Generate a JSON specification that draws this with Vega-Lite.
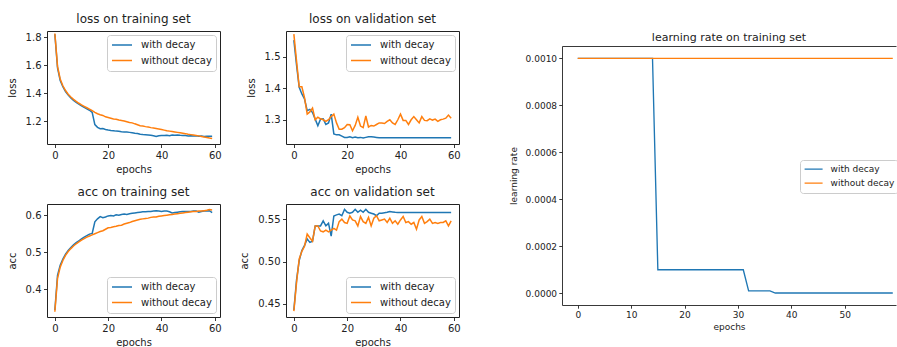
{
  "$schema": "https://vega.github.io/schema/vega-lite/v6.json",
  "background": "white",
  "padding": {"left": 6, "top": 12, "right": 0, "bottom": 0},
  "config": {
    "font": "DejaVu Sans",
    "view": {"stroke": "#222", "strokeWidth": 1},
    "axis": {"grid": false, "domain": false, "tickColor": "#222", "tickSize": 3.5, "tickWidth": 0.9, "labelColor": "#222", "labelFontSize": 10, "labelPadding": 2.5, "titleFontSize": 10, "titleFontWeight": "normal", "titleColor": "#222", "labelFlush": false, "labelOverlap": false, "labelBound": false},
    "axisX": {"titlePadding": 4},
    "axisY": {"titlePadding": 8},
    "title": {"fontSize": 12, "fontWeight": "normal", "color": "#222", "offset": 5},
    "legend": {"symbolType": "stroke", "symbolSize": 400, "symbolStrokeWidth": 1.5, "labelFontSize": 10, "labelColor": "#222", "strokeColor": "#cccccc", "fillColor": "rgba(255,255,255,0.8)", "cornerRadius": 3, "padding": 4, "rowPadding": 3.5, "clipHeight": 12, "labelOffset": 8, "offset": 4}
  },
  "datasets": {
    "loss_train": [
      {"epoch":0,"with decay":1.82,"without decay":1.825},{"epoch":1,"with decay":1.58,"without decay":1.59},{"epoch":2,"with decay":1.49,"without decay":1.5},{"epoch":3,"with decay":1.445,"without decay":1.452},{"epoch":4,"with decay":1.41,"without decay":1.418},{"epoch":5,"with decay":1.385,"without decay":1.392},{"epoch":6,"with decay":1.365,"without decay":1.372},{"epoch":7,"with decay":1.348,"without decay":1.355},{"epoch":8,"with decay":1.333,"without decay":1.34},{"epoch":9,"with decay":1.32,"without decay":1.327},
      {"epoch":10,"with decay":1.308,"without decay":1.315},{"epoch":11,"with decay":1.297,"without decay":1.305},{"epoch":12,"with decay":1.287,"without decay":1.295},{"epoch":13,"with decay":1.277,"without decay":1.285},{"epoch":14,"with decay":1.262,"without decay":1.274},{"epoch":15,"with decay":1.175,"without decay":1.262},{"epoch":16,"with decay":1.155,"without decay":1.252},{"epoch":17,"with decay":1.145,"without decay":1.245},{"epoch":18,"with decay":1.146,"without decay":1.24},{"epoch":19,"with decay":1.14,"without decay":1.23},
      {"epoch":20,"with decay":1.136,"without decay":1.225},{"epoch":21,"with decay":1.133,"without decay":1.22},{"epoch":22,"with decay":1.131,"without decay":1.215},{"epoch":23,"with decay":1.128,"without decay":1.212},{"epoch":24,"with decay":1.127,"without decay":1.207},{"epoch":25,"with decay":1.124,"without decay":1.204},{"epoch":26,"with decay":1.122,"without decay":1.2},{"epoch":27,"with decay":1.121,"without decay":1.195},{"epoch":28,"with decay":1.119,"without decay":1.19},{"epoch":29,"with decay":1.117,"without decay":1.187},
      {"epoch":30,"with decay":1.113,"without decay":1.18},{"epoch":31,"with decay":1.111,"without decay":1.174},{"epoch":32,"with decay":1.105,"without decay":1.167},{"epoch":33,"with decay":1.103,"without decay":1.164},{"epoch":34,"with decay":1.102,"without decay":1.16},{"epoch":35,"with decay":1.101,"without decay":1.157},{"epoch":36,"with decay":1.098,"without decay":1.153},{"epoch":37,"with decay":1.095,"without decay":1.15},{"epoch":38,"with decay":1.09,"without decay":1.147},{"epoch":39,"with decay":1.095,"without decay":1.143},
      {"epoch":40,"with decay":1.097,"without decay":1.139},{"epoch":41,"with decay":1.096,"without decay":1.135},{"epoch":42,"with decay":1.098,"without decay":1.131},{"epoch":43,"with decay":1.095,"without decay":1.128},{"epoch":44,"with decay":1.1,"without decay":1.125},{"epoch":45,"with decay":1.099,"without decay":1.122},{"epoch":46,"with decay":1.1,"without decay":1.119},{"epoch":47,"with decay":1.098,"without decay":1.116},{"epoch":48,"with decay":1.097,"without decay":1.113},{"epoch":49,"with decay":1.096,"without decay":1.11},
      {"epoch":50,"with decay":1.094,"without decay":1.106},{"epoch":51,"with decay":1.095,"without decay":1.103},{"epoch":52,"with decay":1.093,"without decay":1.1},{"epoch":53,"with decay":1.094,"without decay":1.097},{"epoch":54,"with decay":1.092,"without decay":1.094},{"epoch":55,"with decay":1.093,"without decay":1.09},{"epoch":56,"with decay":1.09,"without decay":1.086},{"epoch":57,"with decay":1.092,"without decay":1.083},{"epoch":58,"with decay":1.091,"without decay":1.079},{"epoch":59,"with decay":1.092,"without decay":1.076}
    ],
    "loss_val": [
      {"epoch":0,"with decay":1.553,"without decay":1.572},{"epoch":1,"with decay":1.474,"without decay":1.487},{"epoch":2,"with decay":1.403,"without decay":1.405},{"epoch":3,"with decay":1.382,"without decay":1.405},{"epoch":4,"with decay":1.366,"without decay":1.37},{"epoch":5,"with decay":1.329,"without decay":1.318},{"epoch":6,"with decay":1.333,"without decay":1.325},{"epoch":7,"with decay":1.323,"without decay":1.337},{"epoch":8,"with decay":1.302,"without decay":1.3},{"epoch":9,"with decay":1.281,"without decay":1.308},
      {"epoch":10,"with decay":1.302,"without decay":1.303},{"epoch":11,"with decay":1.303,"without decay":1.3},{"epoch":12,"with decay":1.285,"without decay":1.295},{"epoch":13,"with decay":1.29,"without decay":1.3},{"epoch":14,"with decay":1.318,"without decay":1.31},{"epoch":15,"with decay":1.255,"without decay":1.318},{"epoch":16,"with decay":1.252,"without decay":1.29},{"epoch":17,"with decay":1.252,"without decay":1.27},{"epoch":18,"with decay":1.248,"without decay":1.27},{"epoch":19,"with decay":1.244,"without decay":1.275},
      {"epoch":20,"with decay":1.244,"without decay":1.285},{"epoch":21,"with decay":1.246,"without decay":1.284},{"epoch":22,"with decay":1.243,"without decay":1.265},{"epoch":23,"with decay":1.245,"without decay":1.282},{"epoch":24,"with decay":1.243,"without decay":1.308},{"epoch":25,"with decay":1.244,"without decay":1.28},{"epoch":26,"with decay":1.242,"without decay":1.275},{"epoch":27,"with decay":1.244,"without decay":1.312},{"epoch":28,"with decay":1.246,"without decay":1.277},{"epoch":29,"with decay":1.246,"without decay":1.282},
      {"epoch":30,"with decay":1.245,"without decay":1.28},{"epoch":31,"with decay":1.244,"without decay":1.285},{"epoch":32,"with decay":1.243,"without decay":1.29},{"epoch":33,"with decay":1.243,"without decay":1.29},{"epoch":34,"with decay":1.243,"without decay":1.288},{"epoch":35,"with decay":1.243,"without decay":1.295},{"epoch":36,"with decay":1.243,"without decay":1.3},{"epoch":37,"with decay":1.243,"without decay":1.29},{"epoch":38,"with decay":1.243,"without decay":1.285},{"epoch":39,"with decay":1.243,"without decay":1.3},
      {"epoch":40,"with decay":1.243,"without decay":1.318},{"epoch":41,"with decay":1.243,"without decay":1.298},{"epoch":42,"with decay":1.243,"without decay":1.298},{"epoch":43,"with decay":1.243,"without decay":1.285},{"epoch":44,"with decay":1.243,"without decay":1.3},{"epoch":45,"with decay":1.243,"without decay":1.31},{"epoch":46,"with decay":1.243,"without decay":1.3},{"epoch":47,"with decay":1.243,"without decay":1.29},{"epoch":48,"with decay":1.243,"without decay":1.31},{"epoch":49,"with decay":1.243,"without decay":1.298},
      {"epoch":50,"with decay":1.243,"without decay":1.297},{"epoch":51,"with decay":1.243,"without decay":1.303},{"epoch":52,"with decay":1.243,"without decay":1.299},{"epoch":53,"with decay":1.243,"without decay":1.302},{"epoch":54,"with decay":1.243,"without decay":1.295},{"epoch":55,"with decay":1.243,"without decay":1.3},{"epoch":56,"with decay":1.243,"without decay":1.302},{"epoch":57,"with decay":1.243,"without decay":1.305},{"epoch":58,"with decay":1.243,"without decay":1.315},{"epoch":59,"with decay":1.243,"without decay":1.305}
    ],
    "acc_train": [
      {"epoch":0,"with decay":0.345,"without decay":0.34},{"epoch":1,"with decay":0.438,"without decay":0.43},{"epoch":2,"with decay":0.465,"without decay":0.46},{"epoch":3,"with decay":0.482,"without decay":0.478},{"epoch":4,"with decay":0.495,"without decay":0.492},{"epoch":5,"with decay":0.505,"without decay":0.502},{"epoch":6,"with decay":0.513,"without decay":0.51},{"epoch":7,"with decay":0.52,"without decay":0.517},{"epoch":8,"with decay":0.526,"without decay":0.523},{"epoch":9,"with decay":0.531,"without decay":0.528},
      {"epoch":10,"with decay":0.536,"without decay":0.533},{"epoch":11,"with decay":0.541,"without decay":0.537},{"epoch":12,"with decay":0.545,"without decay":0.541},{"epoch":13,"with decay":0.549,"without decay":0.544},{"epoch":14,"with decay":0.551,"without decay":0.547},{"epoch":15,"with decay":0.582,"without decay":0.55},{"epoch":16,"with decay":0.59,"without decay":0.553},{"epoch":17,"with decay":0.596,"without decay":0.556},{"epoch":18,"with decay":0.593,"without decay":0.558},{"epoch":19,"with decay":0.595,"without decay":0.562},
      {"epoch":20,"with decay":0.598,"without decay":0.566},{"epoch":21,"with decay":0.599,"without decay":0.567},{"epoch":22,"with decay":0.598,"without decay":0.569},{"epoch":23,"with decay":0.601,"without decay":0.57},{"epoch":24,"with decay":0.6,"without decay":0.572},{"epoch":25,"with decay":0.602,"without decay":0.573},{"epoch":26,"with decay":0.603,"without decay":0.576},{"epoch":27,"with decay":0.602,"without decay":0.578},{"epoch":28,"with decay":0.604,"without decay":0.58},{"epoch":29,"with decay":0.605,"without decay":0.583},
      {"epoch":30,"with decay":0.606,"without decay":0.585},{"epoch":31,"with decay":0.607,"without decay":0.587},{"epoch":32,"with decay":0.608,"without decay":0.589},{"epoch":33,"with decay":0.609,"without decay":0.59},{"epoch":34,"with decay":0.609,"without decay":0.591},{"epoch":35,"with decay":0.61,"without decay":0.592},{"epoch":36,"with decay":0.61,"without decay":0.594},{"epoch":37,"with decay":0.611,"without decay":0.595},{"epoch":38,"with decay":0.612,"without decay":0.595},{"epoch":39,"with decay":0.611,"without decay":0.597},
      {"epoch":40,"with decay":0.61,"without decay":0.598},{"epoch":41,"with decay":0.611,"without decay":0.599},{"epoch":42,"with decay":0.611,"without decay":0.6},{"epoch":43,"with decay":0.609,"without decay":0.601},{"epoch":44,"with decay":0.606,"without decay":0.602},{"epoch":45,"with decay":0.607,"without decay":0.603},{"epoch":46,"with decay":0.608,"without decay":0.604},{"epoch":47,"with decay":0.609,"without decay":0.605},{"epoch":48,"with decay":0.61,"without decay":0.606},{"epoch":49,"with decay":0.61,"without decay":0.607},
      {"epoch":50,"with decay":0.61,"without decay":0.608},{"epoch":51,"with decay":0.61,"without decay":0.609},{"epoch":52,"with decay":0.611,"without decay":0.61},{"epoch":53,"with decay":0.611,"without decay":0.61},{"epoch":54,"with decay":0.608,"without decay":0.611},{"epoch":55,"with decay":0.61,"without decay":0.611},{"epoch":56,"with decay":0.611,"without decay":0.612},{"epoch":57,"with decay":0.611,"without decay":0.613},{"epoch":58,"with decay":0.612,"without decay":0.615},{"epoch":59,"with decay":0.607,"without decay":0.614}
    ],
    "acc_val": [
      {"epoch":0,"with decay":0.4428,"without decay":0.4415},{"epoch":1,"with decay":0.478,"without decay":0.475},{"epoch":2,"with decay":0.501,"without decay":0.503},{"epoch":3,"with decay":0.513,"without decay":0.512},{"epoch":4,"with decay":0.519,"without decay":0.518},{"epoch":5,"with decay":0.5265,"without decay":0.5323},{"epoch":6,"with decay":0.5225,"without decay":0.528},{"epoch":7,"with decay":0.524,"without decay":0.524},{"epoch":8,"with decay":0.542,"without decay":0.542},{"epoch":9,"with decay":0.542,"without decay":0.542},
      {"epoch":10,"with decay":0.542,"without decay":0.536},{"epoch":11,"with decay":0.548,"without decay":0.535},{"epoch":12,"with decay":0.542,"without decay":0.537},{"epoch":13,"with decay":0.545,"without decay":0.535},{"epoch":14,"with decay":0.53,"without decay":0.537},{"epoch":15,"with decay":0.5537,"without decay":0.539},{"epoch":16,"with decay":0.555,"without decay":0.537},{"epoch":17,"with decay":0.556,"without decay":0.547},{"epoch":18,"with decay":0.554,"without decay":0.55},{"epoch":19,"with decay":0.5615,"without decay":0.546},
      {"epoch":20,"with decay":0.558,"without decay":0.545},{"epoch":21,"with decay":0.557,"without decay":0.5537},{"epoch":22,"with decay":0.558,"without decay":0.549},{"epoch":23,"with decay":0.5615,"without decay":0.548},{"epoch":24,"with decay":0.558,"without decay":0.542},{"epoch":25,"with decay":0.5605,"without decay":0.553},{"epoch":26,"with decay":0.558,"without decay":0.547},{"epoch":27,"with decay":0.5615,"without decay":0.545},{"epoch":28,"with decay":0.558,"without decay":0.552},{"epoch":29,"with decay":0.557,"without decay":0.542},
      {"epoch":30,"with decay":0.556,"without decay":0.551},{"epoch":31,"with decay":0.554,"without decay":0.554},{"epoch":32,"with decay":0.557,"without decay":0.548},{"epoch":33,"with decay":0.557,"without decay":0.549},{"epoch":34,"with decay":0.5575,"without decay":0.55},{"epoch":35,"with decay":0.558,"without decay":0.546},{"epoch":36,"with decay":0.559,"without decay":0.551},{"epoch":37,"with decay":0.5585,"without decay":0.545},{"epoch":38,"with decay":0.558,"without decay":0.548},{"epoch":39,"with decay":0.5578,"without decay":0.544},
      {"epoch":40,"with decay":0.5578,"without decay":0.549},{"epoch":41,"with decay":0.5578,"without decay":0.553},{"epoch":42,"with decay":0.5578,"without decay":0.546},{"epoch":43,"with decay":0.5578,"without decay":0.547},{"epoch":44,"with decay":0.5578,"without decay":0.544},{"epoch":45,"with decay":0.5578,"without decay":0.546},{"epoch":46,"with decay":0.5578,"without decay":0.538},{"epoch":47,"with decay":0.5578,"without decay":0.549},{"epoch":48,"with decay":0.5578,"without decay":0.553},{"epoch":49,"with decay":0.5578,"without decay":0.545},
      {"epoch":50,"with decay":0.5578,"without decay":0.547},{"epoch":51,"with decay":0.5578,"without decay":0.55},{"epoch":52,"with decay":0.5578,"without decay":0.545},{"epoch":53,"with decay":0.5578,"without decay":0.546},{"epoch":54,"with decay":0.5578,"without decay":0.545},{"epoch":55,"with decay":0.5578,"without decay":0.546},{"epoch":56,"with decay":0.5578,"without decay":0.546},{"epoch":57,"with decay":0.5578,"without decay":0.548},{"epoch":58,"with decay":0.5578,"without decay":0.542},{"epoch":59,"with decay":0.5578,"without decay":0.548}
    ],
    "lr": [
      {"epoch":0,"with decay":0.001,"without decay":0.001},{"epoch":1,"with decay":0.001,"without decay":0.001},{"epoch":2,"with decay":0.001,"without decay":0.001},{"epoch":3,"with decay":0.001,"without decay":0.001},{"epoch":4,"with decay":0.001,"without decay":0.001},{"epoch":5,"with decay":0.001,"without decay":0.001},{"epoch":6,"with decay":0.001,"without decay":0.001},{"epoch":7,"with decay":0.001,"without decay":0.001},{"epoch":8,"with decay":0.001,"without decay":0.001},{"epoch":9,"with decay":0.001,"without decay":0.001},
      {"epoch":10,"with decay":0.001,"without decay":0.001},{"epoch":11,"with decay":0.001,"without decay":0.001},{"epoch":12,"with decay":0.001,"without decay":0.001},{"epoch":13,"with decay":0.001,"without decay":0.001},{"epoch":14,"with decay":0.001,"without decay":0.001},{"epoch":15,"with decay":0.0001,"without decay":0.001},{"epoch":16,"with decay":0.0001,"without decay":0.001},{"epoch":17,"with decay":0.0001,"without decay":0.001},{"epoch":18,"with decay":0.0001,"without decay":0.001},{"epoch":19,"with decay":0.0001,"without decay":0.001},
      {"epoch":20,"with decay":0.0001,"without decay":0.001},{"epoch":21,"with decay":0.0001,"without decay":0.001},{"epoch":22,"with decay":0.0001,"without decay":0.001},{"epoch":23,"with decay":0.0001,"without decay":0.001},{"epoch":24,"with decay":0.0001,"without decay":0.001},{"epoch":25,"with decay":0.0001,"without decay":0.001},{"epoch":26,"with decay":0.0001,"without decay":0.001},{"epoch":27,"with decay":0.0001,"without decay":0.001},{"epoch":28,"with decay":0.0001,"without decay":0.001},{"epoch":29,"with decay":0.0001,"without decay":0.001},
      {"epoch":30,"with decay":0.0001,"without decay":0.001},{"epoch":31,"with decay":0.0001,"without decay":0.001},{"epoch":32,"with decay":0.00001,"without decay":0.001},{"epoch":33,"with decay":0.00001,"without decay":0.001},{"epoch":34,"with decay":0.00001,"without decay":0.001},{"epoch":35,"with decay":0.00001,"without decay":0.001},{"epoch":36,"with decay":0.00001,"without decay":0.001},{"epoch":37,"with decay":0.000001,"without decay":0.001},{"epoch":38,"with decay":0.000001,"without decay":0.001},{"epoch":39,"with decay":0.000001,"without decay":0.001},
      {"epoch":40,"with decay":0.000001,"without decay":0.001},{"epoch":41,"with decay":0.000001,"without decay":0.001},{"epoch":42,"with decay":0.000001,"without decay":0.001},{"epoch":43,"with decay":0.000001,"without decay":0.001},{"epoch":44,"with decay":0.000001,"without decay":0.001},{"epoch":45,"with decay":0.000001,"without decay":0.001},{"epoch":46,"with decay":0.000001,"without decay":0.001},{"epoch":47,"with decay":0.000001,"without decay":0.001},{"epoch":48,"with decay":0.000001,"without decay":0.001},{"epoch":49,"with decay":0.000001,"without decay":0.001},
      {"epoch":50,"with decay":0.000001,"without decay":0.001},{"epoch":51,"with decay":0.000001,"without decay":0.001},{"epoch":52,"with decay":0.000001,"without decay":0.001},{"epoch":53,"with decay":0.000001,"without decay":0.001},{"epoch":54,"with decay":0.000001,"without decay":0.001},{"epoch":55,"with decay":0.000001,"without decay":0.001},{"epoch":56,"with decay":0.000001,"without decay":0.001},{"epoch":57,"with decay":0.000001,"without decay":0.001},{"epoch":58,"with decay":0.000001,"without decay":0.001},{"epoch":59,"with decay":0.000001,"without decay":0.001}
    ]
  },
  "hconcat": [
    {
      "vconcat": [
        {
          "hconcat": [
            {
              "title": "loss on training set", "width": 173, "height": 113,
              "data": {"name": "loss_train"},
              "transform": [{"fold": ["with decay", "without decay"], "as": ["series", "value"]}],
              "mark": {"type": "line", "strokeWidth": 1.5},
              "encoding": {
                "x": {"field": "epoch", "type": "quantitative", "scale": {"domain": [-2.95, 61.95], "nice": false, "zero": false}, "axis": {"values": [0, 20, 40, 60], "title": "epochs"}},
                "y": {"field": "value", "type": "quantitative", "scale": {"domain": [1.036, 1.843], "nice": false, "zero": false}, "axis": {"values": [1.2, 1.4, 1.6, 1.8], "format": ".1f", "title": "loss"}},
                "color": {"field": "series", "type": "nominal", "scale": {"domain": ["with decay", "without decay"], "range": ["#1f77b4", "#ff7f0e"]}, "legend": {"title": null, "orient": "top-right"}}
              }
            },
            {
              "title": "loss on validation set", "width": 173, "height": 113,
              "data": {"name": "loss_val"},
              "transform": [{"fold": ["with decay", "without decay"], "as": ["series", "value"]}],
              "mark": {"type": "line", "strokeWidth": 1.5},
              "encoding": {
                "x": {"field": "epoch", "type": "quantitative", "scale": {"domain": [-2.95, 61.95], "nice": false, "zero": false}, "axis": {"values": [0, 20, 40, 60], "title": "epochs"}},
                "y": {"field": "value", "type": "quantitative", "scale": {"domain": [1.223, 1.582], "nice": false, "zero": false}, "axis": {"values": [1.3, 1.4, 1.5], "format": ".1f", "title": "loss"}},
                "color": {"field": "series", "type": "nominal", "scale": {"domain": ["with decay", "without decay"], "range": ["#1f77b4", "#ff7f0e"]}, "legend": {"title": null, "orient": "top-right"}}
              }
            }
          ],
          "spacing": 23,
          "resolve": {"scale": {"color": "independent"}, "legend": {"color": "independent"}}
        },
        {
          "hconcat": [
            {
              "title": "acc on training set", "width": 173, "height": 113,
              "data": {"name": "acc_train"},
              "transform": [{"fold": ["with decay", "without decay"], "as": ["series", "value"]}],
              "mark": {"type": "line", "strokeWidth": 1.5},
              "encoding": {
                "x": {"field": "epoch", "type": "quantitative", "scale": {"domain": [-2.95, 61.95], "nice": false, "zero": false}, "axis": {"values": [0, 20, 40, 60], "title": "epochs"}},
                "y": {"field": "value", "type": "quantitative", "scale": {"domain": [0.326, 0.63], "nice": false, "zero": false}, "axis": {"values": [0.4, 0.5, 0.6], "format": ".1f", "title": "acc"}},
                "color": {"field": "series", "type": "nominal", "scale": {"domain": ["with decay", "without decay"], "range": ["#1f77b4", "#ff7f0e"]}, "legend": {"title": null, "orient": "bottom-right"}}
              }
            },
            {
              "title": "acc on validation set", "width": 173, "height": 113,
              "data": {"name": "acc_val"},
              "transform": [{"fold": ["with decay", "without decay"], "as": ["series", "value"]}],
              "mark": {"type": "line", "strokeWidth": 1.5},
              "encoding": {
                "x": {"field": "epoch", "type": "quantitative", "scale": {"domain": [-2.95, 61.95], "nice": false, "zero": false}, "axis": {"values": [0, 20, 40, 60], "title": "epochs"}},
                "y": {"field": "value", "type": "quantitative", "scale": {"domain": [0.4346, 0.5678], "nice": false, "zero": false}, "axis": {"values": [0.45, 0.5, 0.55], "format": ".2f", "title": "acc"}},
                "color": {"field": "series", "type": "nominal", "scale": {"domain": ["with decay", "without decay"], "range": ["#1f77b4", "#ff7f0e"]}, "legend": {"title": null, "orient": "bottom-right"}}
              }
            }
          ],
          "spacing": 17,
          "resolve": {"scale": {"color": "independent"}, "legend": {"color": "independent"}}
        }
      ],
      "spacing": 10,
      "resolve": {"scale": {"color": "independent"}, "legend": {"color": "independent"}}
    },
    {
      "vconcat": [
        {
          "width": 10, "height": 1,
          "data": {"values": []},
          "mark": "point",
          "encoding": {},
          "view": {"stroke": null}
        },
        {
          "title": {"text": "learning rate on training set", "fontSize": 11, "offset": 3},
          "width": 334, "height": 259,
          "data": {"name": "lr"},
          "transform": [{"fold": ["with decay", "without decay"], "as": ["series", "value"]}],
          "view": {"stroke": null},
          "layer": [
            {
              "mark": {"type": "line", "strokeWidth": 1.35},
              "encoding": {
                "x": {"field": "epoch", "type": "quantitative", "scale": {"domain": [-2.95, 59.6], "nice": false, "zero": false}, "axis": {"values": [0, 10, 20, 30, 40, 50], "title": "epochs", "labelFontSize": 9, "titleFontSize": 9, "tickSize": 3.2, "labelPadding": 2.2, "titlePadding": 3, "domain": true, "domainColor": "#222", "domainWidth": 0.9}},
                "y": {"field": "value", "type": "quantitative", "scale": {"domain": [-0.00005, 0.0010525], "nice": false, "zero": false}, "axis": {"values": [0, 0.0002, 0.0004, 0.0006, 0.0008, 0.001], "format": ".4f", "title": "learning rate", "labelFontSize": 9, "titleFontSize": 9, "tickSize": 3.2, "labelPadding": 2.2, "titlePadding": 7, "domain": true, "domainColor": "#222", "domainWidth": 0.9}},
                "color": {"field": "series", "type": "nominal", "scale": {"domain": ["with decay", "without decay"], "range": ["#1f77b4", "#ff7f0e"]}, "legend": {"title": null, "orient": "none", "legendX": 238, "legendY": 114, "labelFontSize": 9, "symbolSize": 324, "symbolStrokeWidth": 1.35, "clipHeight": 11, "rowPadding": 3, "padding": 3.6, "labelOffset": 7}}
              }
            },
            {
              "mark": {"type": "line", "opacity": 0},
              "encoding": {
                "x": {"field": "epoch", "type": "quantitative", "axis": {"orient": "top", "labels": false, "ticks": false, "title": null, "domain": true, "domainColor": "#222", "domainWidth": 0.9}},
                "y": {"field": "value", "type": "quantitative", "axis": null}
              }
            }
          ],
          "resolve": {"axis": {"x": "independent", "y": "independent"}}
        }
      ],
      "spacing": 0,
      "resolve": {"scale": {"color": "independent"}, "legend": {"color": "independent"}}
    }
  ],
  "spacing": 48,
  "resolve": {"scale": {"color": "independent"}, "legend": {"color": "independent"}}
}
